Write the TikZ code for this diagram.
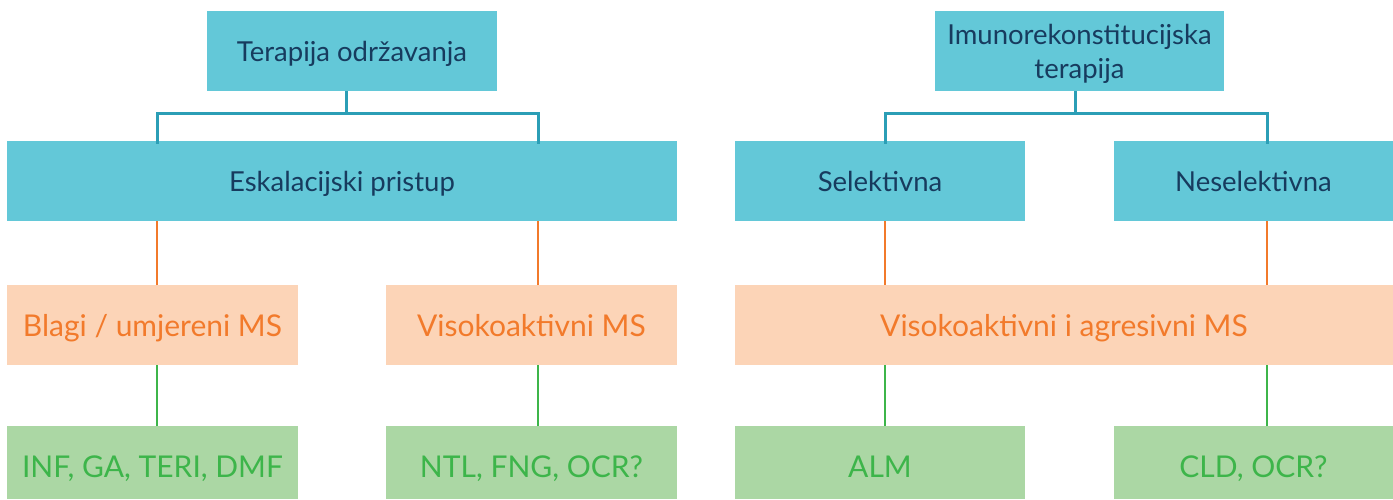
\documentclass[tikz,border=0pt]{standalone}
\usepackage{fontspec}
\setmainfont{Lato}
\definecolor{tealfill}{HTML}{63C8D8}
\definecolor{tealline}{HTML}{2B9EB6}
\definecolor{navytxt}{HTML}{173B5E}
\definecolor{peachfill}{HTML}{FCD4B7}
\definecolor{orangetxt}{HTML}{F27A2B}
\definecolor{greenfill}{HTML}{ABD7A4}
\definecolor{greentxt}{HTML}{3DB54A}
\tikzset{
  box/.style={inner sep=0pt, align=center, outer sep=0pt, text depth=0pt},
  tbox/.style={box, fill=tealfill, text=navytxt, font=\fontsize{27.5}{31}\selectfont},
  pbox/.style={box, fill=peachfill, text=orangetxt, font=\fontsize{30}{34}\selectfont},
  gbox/.style={box, fill=greenfill, text=greentxt, font=\fontsize{30}{34}\selectfont, text height=30pt},
  tline/.style={draw=tealline, line width=3pt},
  oline/.style={draw=orangetxt, line width=2.3pt},
  gline/.style={draw=greentxt, line width=2.3pt},
}
\begin{document}
\begin{tikzpicture}[x=1pt,y=-1pt]
\useasboundingbox (0,0) rectangle (1393,499);
% top row
\node[tbox, minimum width=290pt, minimum height=80pt] (t1) at (352,51) {Terapija održavanja};
\node[tbox, minimum width=289pt, minimum height=80pt] (t2) at (1079.5,51) {Imunorekonstitucijska\\[3pt]terapija};
% second row
\node[tbox, minimum width=670pt, minimum height=80pt] (esk) at (342,181) {Eskalacijski pristup};
\node[tbox, minimum width=290pt, minimum height=80pt] (sel) at (880,181) {Selektivna};
\node[tbox, minimum width=279pt, minimum height=80pt] (nes) at (1253.5,181) {Neselektivna};
% third row
\node[pbox, minimum width=291pt, minimum height=80pt] (bla) at (152.5,325) {Blagi / umjereni MS};
\node[pbox, minimum width=291pt, minimum height=80pt] (vis) at (531.5,325) {Visokoaktivni MS};
\node[pbox, minimum width=658pt, minimum height=80pt] (agr) at (1064,325) {Visokoaktivni i agresivni MS};
% fourth row
\node[gbox, minimum width=291pt, minimum height=73pt] (g1) at (152.5,462.5) {INF, GA, TERI, DMF};
\node[gbox, minimum width=291pt, minimum height=73pt] (g2) at (531.5,462.5) {NTL, FNG, OCR?};
\node[gbox, minimum width=290pt, minimum height=73pt] (g3) at (880,462.5) {ALM};
\node[gbox, minimum width=279pt, minimum height=73pt] (g4) at (1253.5,462.5) {CLD, OCR?};
% brackets
\coordinate (b1) at (346,113.5);
\coordinate (b1l) at (157,113.5);
\coordinate (b1r) at (538,113.5);
\draw[tline] ([xshift=-6pt]t1.south) -- (b1);
\draw[tline, line cap=rect] (b1l) -- (b1r);
\draw[tline] (b1l) -- ([yshift=-3pt]b1l |- esk.north);
\draw[tline] (b1r) -- ([yshift=-3pt]b1r |- esk.north);
\coordinate (b2) at (1075.5,113.5);
\coordinate (b2l) at (885,113.5);
\coordinate (b2r) at (1267,113.5);
\draw[tline] ([xshift=-4pt]t2.south) -- (b2);
\draw[tline, line cap=rect] (b2l) -- (b2r);
\draw[tline] (b2l) -- ([yshift=-3pt]b2l |- sel.north);
\draw[tline] (b2r) -- ([yshift=-3pt]b2r |- nes.north);
% orange connectors
\draw[oline] ([xshift=4.5pt]bla.north) -- ([xshift=4.5pt]bla.north |- esk.south);
\draw[oline] ([xshift=6.5pt]vis.north) -- ([xshift=6.5pt]vis.north |- esk.south);
\draw[oline] ([xshift=5pt]sel.south) -- ([xshift=5pt]sel.south |- agr.north);
\draw[oline] ([xshift=13.5pt]nes.south) -- ([xshift=13.5pt]nes.south |- agr.north);
% green connectors
\draw[gline] ([xshift=4.5pt]g1.north) -- ([xshift=4.5pt]g1.north |- bla.south);
\draw[gline] ([xshift=6.5pt]g2.north) -- ([xshift=6.5pt]g2.north |- vis.south);
\draw[gline] ([xshift=5pt]g3.north) -- ([xshift=5pt]g3.north |- agr.south);
\draw[gline] ([xshift=13.5pt]g4.north) -- ([xshift=13.5pt]g4.north |- agr.south);
\end{tikzpicture}
\end{document}
